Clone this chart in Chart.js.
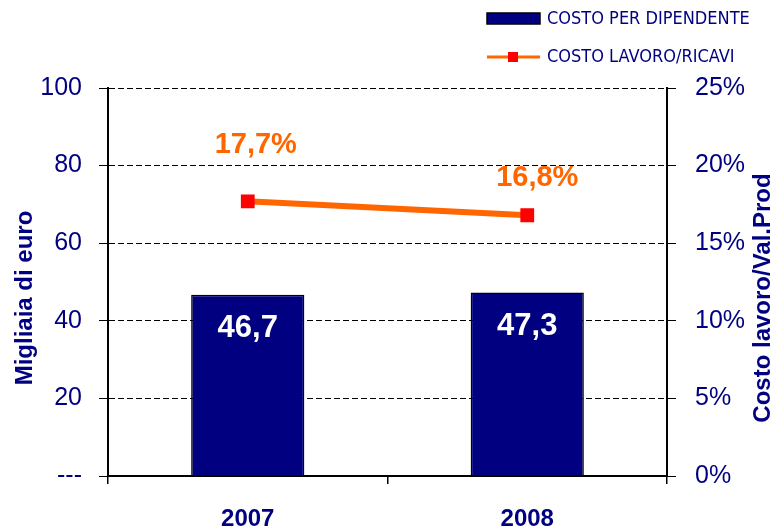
<!DOCTYPE html>
<html>
<head>
<meta charset="utf-8">
<script src="https://cdn.jsdelivr.net/npm/chart.js@4.4.1/dist/chart.umd.min.js"></script>
<style>
  html, body { margin: 0; padding: 0; background: #fff; }
  #wrap { width: 775px; height: 531px; }
</style>
</head>
<body>
<div id="wrap"><canvas id="chart" width="775" height="531"></canvas></div>
<script>
const years = ["2007", "2008"];
const costoDipendente = [46.7, 47.3];
const costoLavoroRicavi = [17.7, 16.8];
const leftTicks = [0, 20, 40, 60, 80, 100];
const rightTicks = [0, 5, 10, 15, 20, 25];

const navy = "#000080";
const orange = "#FF6600";
const cond = "'DejaVu Sans Condensed', 'Liberation Sans', Arial, sans-serif";
const sans = "'Liberation Sans', Arial, sans-serif";

function virgola(v) {
  return v.toFixed(1).replace(".", ",");
}

// labels, titles and legend are drawn by hand like in the original excel chart
const extras = {
  id: "extras",
  afterDatasetsDraw(chart) {
    const ctx = chart.ctx;
    ctx.save();
    ctx.textAlign = "center";
    ctx.textBaseline = "middle";

    // dataset 1 = bars
    ctx.fillStyle = "#fff";
    ctx.font = "bold 31px " + sans;
    chart.getDatasetMeta(1).data.forEach((bar, i) => {
      ctx.fillText(virgola(costoDipendente[i]), bar.x, bar.y + 34);
    });

    // dataset 0 = line
    const shift = [[8, -56], [10, -37]];
    ctx.fillStyle = orange;
    ctx.font = "bold 29px " + sans;
    chart.getDatasetMeta(0).data.forEach((pt, i) => {
      ctx.fillText(virgola(costoLavoroRicavi[i]) + "%", pt.x + shift[i][0], pt.y + shift[i][1]);
    });
    ctx.restore();
  },
  afterDraw(chart) {
    const ctx = chart.ctx;
    const area = chart.chartArea;
    const midY = (area.top + area.bottom) / 2 + 16;
    ctx.save();
    ctx.fillStyle = navy;
    ctx.font = "bold 24px " + sans;
    ctx.textAlign = "center";
    ctx.textBaseline = "middle";

    ctx.save();
    ctx.translate(25, midY);
    ctx.rotate(-Math.PI / 2);
    ctx.fillText("Migliaia di euro", 0, 0);
    ctx.restore();

    ctx.save();
    ctx.translate(763, midY);
    ctx.rotate(-Math.PI / 2);
    ctx.fillText("Costo lavoro/Val.Prod", 0, 0);
    ctx.restore();

    // legend
    ctx.fillStyle = navy;
    ctx.strokeStyle = "#000";
    ctx.lineWidth = 1.5;
    ctx.fillRect(487, 13, 53, 11);
    ctx.strokeRect(487, 13, 53, 11);

    ctx.strokeStyle = orange;
    ctx.lineWidth = 3;
    ctx.beginPath();
    ctx.moveTo(487, 57);
    ctx.lineTo(540, 57);
    ctx.stroke();
    ctx.fillStyle = "#FF0000";
    ctx.fillRect(508, 52, 10, 10);

    ctx.fillStyle = navy;
    ctx.font = "18px " + cond;
    ctx.textAlign = "left";
    ctx.fillText("COSTO PER DIPENDENTE", 547, 19);
    ctx.fillText("COSTO LAVORO/RICAVI", 547, 57);
    ctx.restore();
  }
};

const ctx = document.getElementById("chart").getContext("2d");
const chart = new Chart(ctx, {
  data: {
    labels: years,
    datasets: [
      {
        type: "line",
        label: "COSTO LAVORO/RICAVI",
        data: costoLavoroRicavi,
        yAxisID: "y1",
        borderColor: orange,
        borderWidth: 6,
        pointStyle: "rect",
        pointRadius: 5.5,
        pointBackgroundColor: "#FF0000",
        pointBorderColor: "#FF0000",
        order: 0,
      },
      {
        type: "bar",
        label: "COSTO PER DIPENDENTE",
        data: costoDipendente,
        yAxisID: "y",
        backgroundColor: navy,
        borderColor: "#000",
        borderWidth: 1.5,
        barPercentage: 0.405,
        categoryPercentage: 1,
        order: 1,
      },
    ],
  },
  plugins: [extras],
  options: {
    responsive: false,
    animation: false,
    layout: { padding: { top: 88, left: 0, right: 0, bottom: 0 } },
    plugins: {
      legend: { display: false },
      tooltip: { enabled: false },
    },
    scales: {
      x: {
        offset: true,
        grid: { offset: true, drawOnChartArea: false, color: "#000", tickLength: 8, lineWidth: 1.5 },
        border: { color: "#000", width: 2 },
        ticks: { color: navy, font: { family: sans, size: 24, weight: "bold" }, padding: 21 },
        afterFit: (s) => { s.height = 55; },
      },
      y: {
        position: "left",
        min: 0,
        max: 100,
        afterBuildTicks: (s) => { s.ticks = leftTicks.map((v) => ({ value: v })); },
        grid: { color: "#000", lineWidth: 1, tickLength: 9, tickBorderDash: [] },
        border: { color: "#000", width: 2, dash: [6, 3] },
        ticks: {
          color: navy,
          font: { family: sans, size: 25 },
          padding: 17,
          callback: (v) => (v === 0 ? "---" : v),
        },
        afterFit: (s) => { s.width = 108; },
      },
      y1: {
        position: "right",
        min: 0,
        max: 25,
        afterBuildTicks: (s) => { s.ticks = rightTicks.map((v) => ({ value: v })); },
        grid: { drawOnChartArea: false, color: "#000", tickLength: 9 },
        border: { color: "#000", width: 2 },
        ticks: {
          color: navy,
          font: { family: sans, size: 25 },
          padding: 19,
          callback: (v) => v + "%",
        },
        afterFit: (s) => { s.width = 108; },
      },
    },
  },
});
</script>
</body>
</html>
